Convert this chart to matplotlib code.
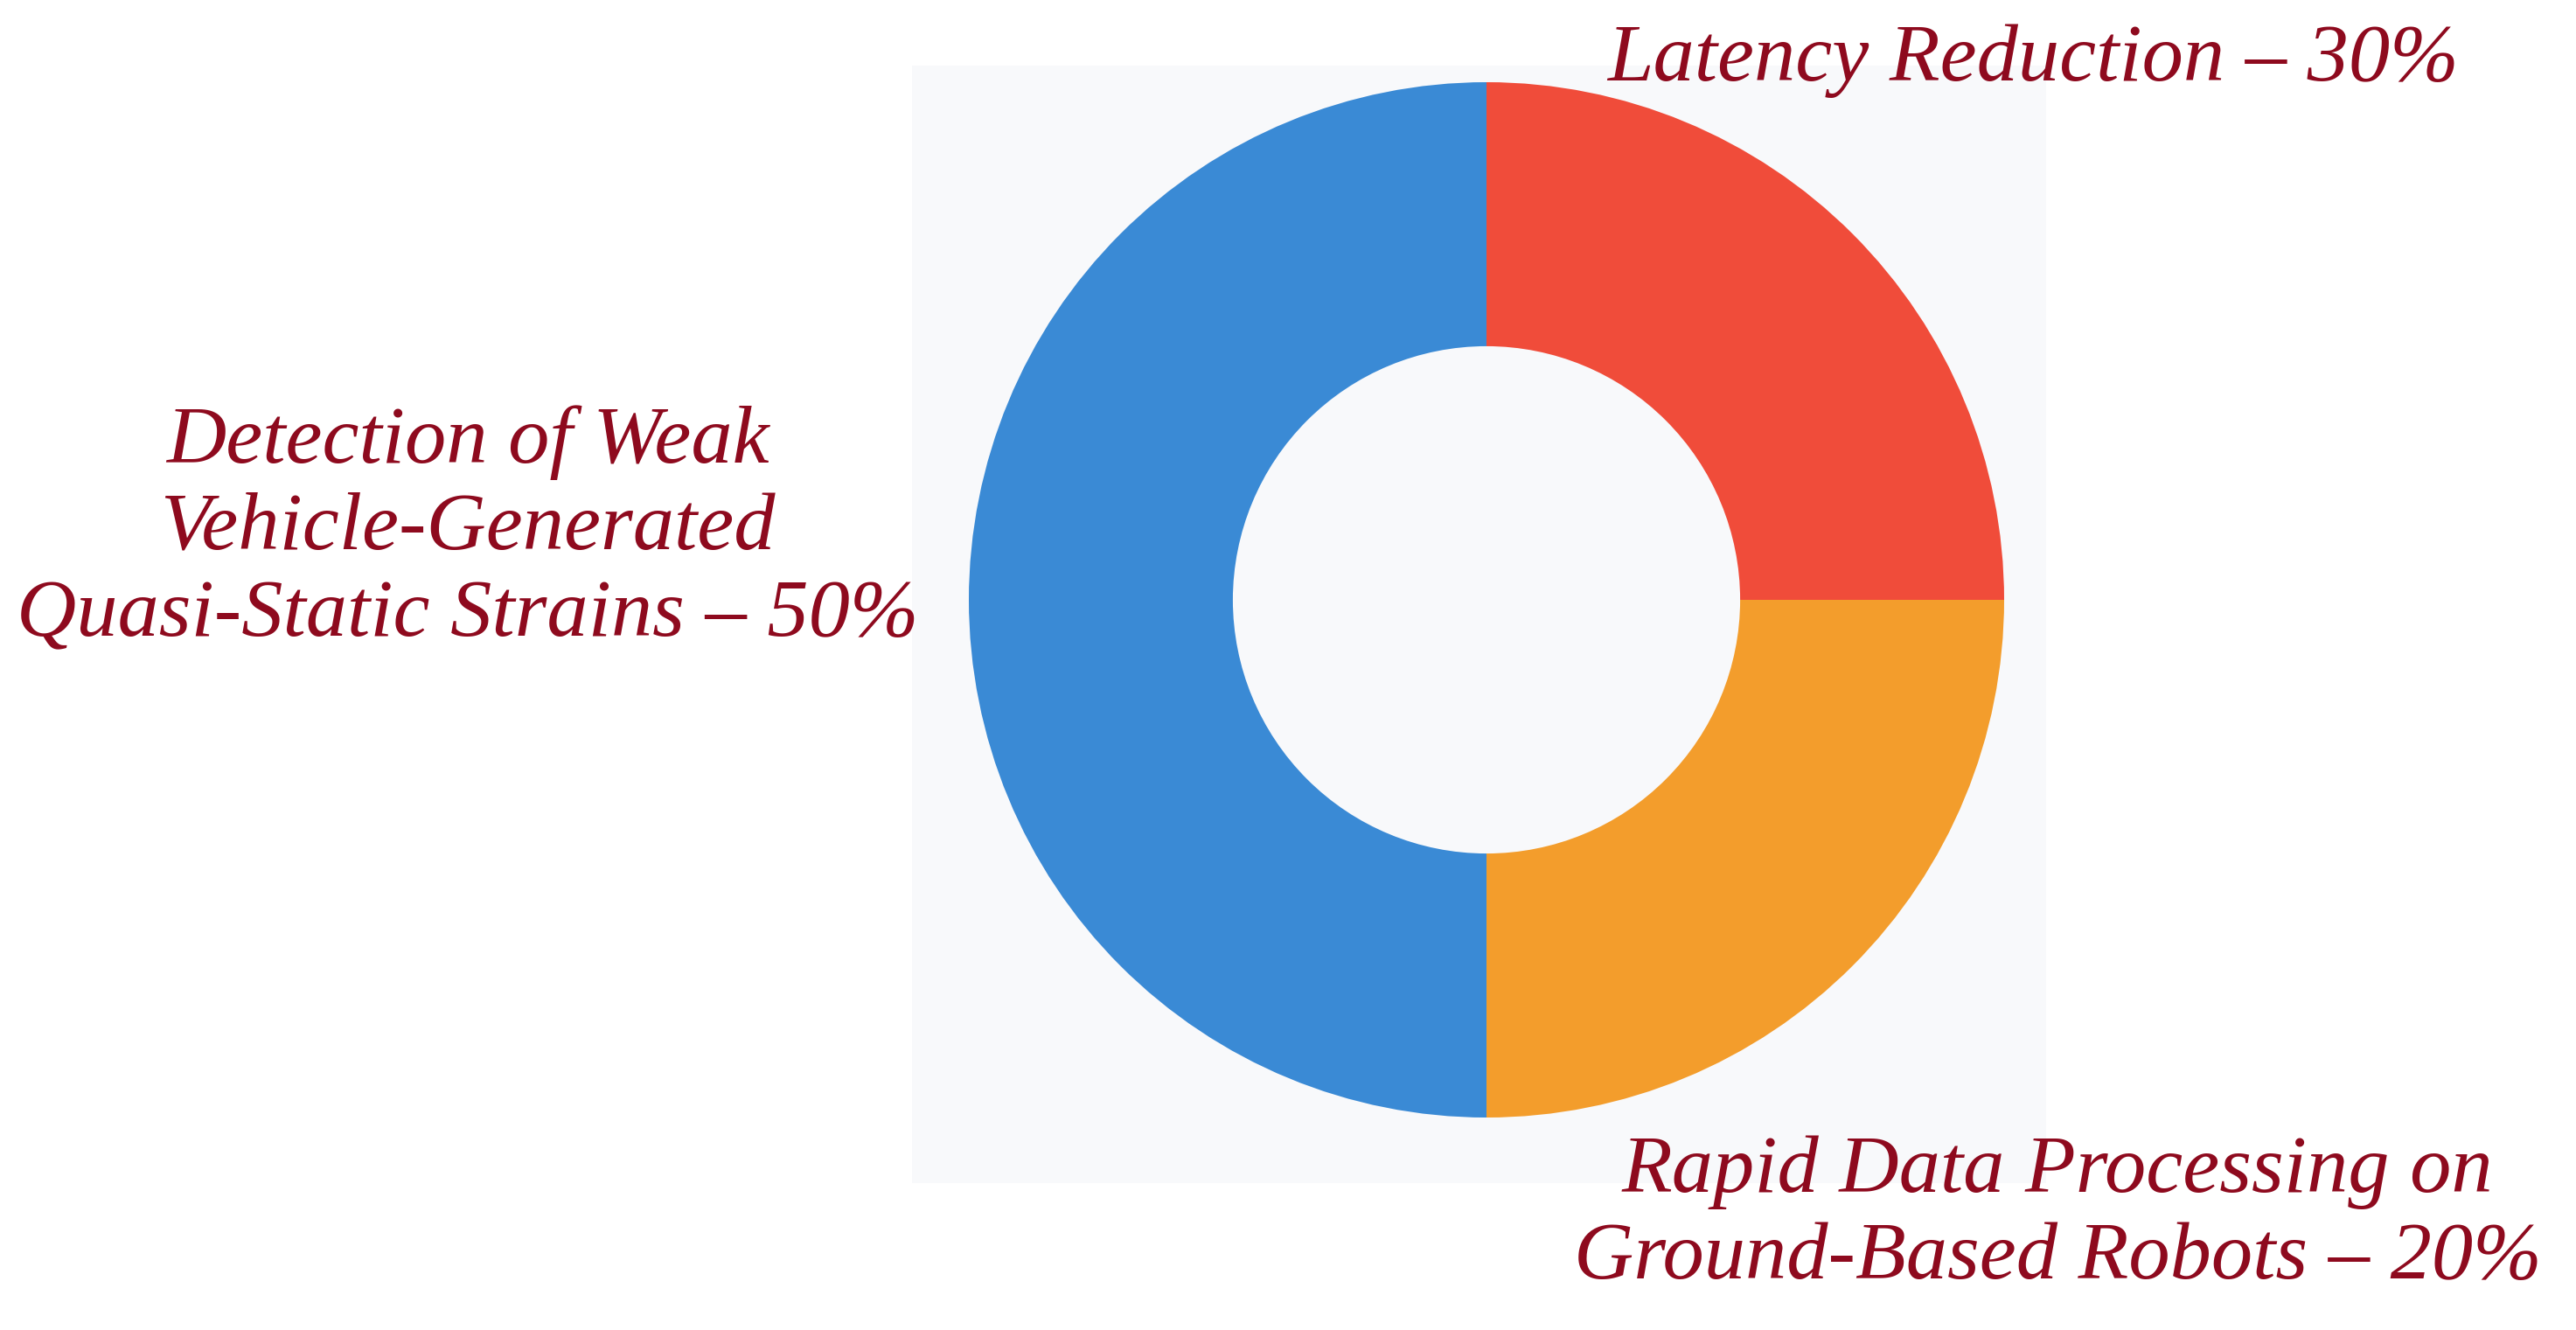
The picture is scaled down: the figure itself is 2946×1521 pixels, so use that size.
import matplotlib
matplotlib.use("Agg")
import matplotlib.pyplot as plt
from matplotlib.patches import Rectangle

# Data
categories = ["Latency Reduction", "Rapid Data Processing on\nGround-Based Robots",
              "Detection of Weak\nVehicle-Generated\nQuasi-Static Strains"]
label_pct = [30, 20, 50]          # percentages printed in the labels
drawn_share = [25, 25, 50]        # angular shares as drawn in the ring
colors = ["#F04C3A", "#F39D2C", "#3A8AD5"]

W, H = 2946, 1521
fig = plt.figure(figsize=(W / 100, H / 100), dpi=100)
fig.patch.set_facecolor("white")

# faint panel behind the donut
fig.add_artist(Rectangle((1043 / W, 1 - 1353 / H), (2340 - 1043) / W, (1353 - 75) / H,
                         transform=fig.transFigure, facecolor="#F8F9FB", edgecolor="none", zorder=0))

cx, cy, R = 1700, 686, 592
ax = fig.add_axes([(cx - R) / W, (H - cy - R) / H, 2 * R / W, 2 * R / H])
ax.pie(drawn_share, colors=colors, startangle=90, counterclock=False,
       wedgeprops=dict(width=0.51, edgecolor="none", linewidth=0))
ax.set_xlim(-1, 1)
ax.set_ylim(-1, 1)
ax.set_aspect("equal")
ax.axis("off")

txt_kw = dict(family="Liberation Serif", style="italic", color="#8E0A1E",
              fontsize=68, ha="center", va="center", linespacing=1.22)

positions = [(2325, 70), (2353, 1390), (535, 605)]
for cat, pct, (px, py) in zip(categories, label_pct, positions):
    fig.text(px / W, 1 - py / H, f"{cat} \u2013 {pct}%", **txt_kw)

fig.savefig("out.png", dpi=100, facecolor="white")
